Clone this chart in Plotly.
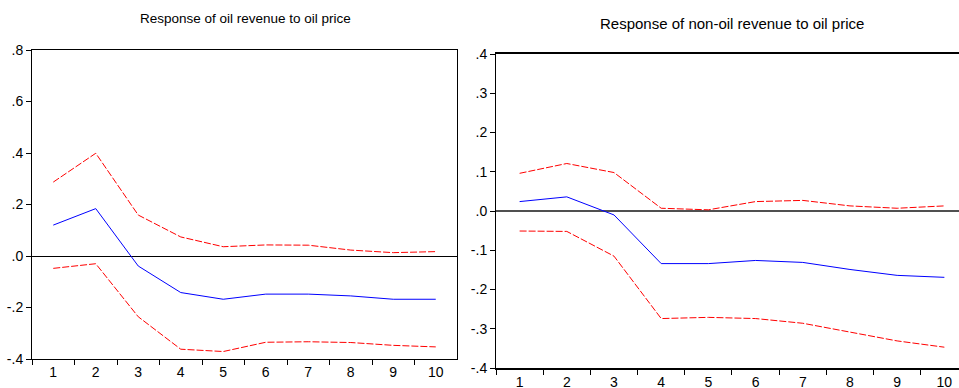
import plotly.graph_objects as go

periods = ["1", "2", "3", "4", "5", "6", "7", "8", "9", "10"]

# Left panel: response of oil revenue to oil price
oil_resp = [0.120, 0.184, -0.039, -0.142, -0.168, -0.148, -0.148, -0.155, -0.168, -0.168]
oil_upper = [0.287, 0.399, 0.159, 0.074, 0.036, 0.043, 0.042, 0.023, 0.013, 0.017]
oil_lower = [-0.048, -0.030, -0.236, -0.362, -0.371, -0.335, -0.333, -0.336, -0.347, -0.353]

# Right panel: response of non-oil revenue to oil price
non_resp = [0.024, 0.036, -0.010, -0.134, -0.134, -0.126, -0.131, -0.149, -0.164, -0.169]
non_upper = [0.096, 0.121, 0.098, 0.007, 0.003, 0.024, 0.027, 0.013, 0.007, 0.013]
non_lower = [-0.051, -0.052, -0.115, -0.274, -0.271, -0.274, -0.286, -0.309, -0.331, -0.347]

left_ticks = [-0.4, -0.2, 0.0, 0.2, 0.4, 0.6, 0.8]
left_ticktext = ["-.4", "-.2", ".0", ".2", ".4", ".6", ".8"]
right_ticks = [-0.4, -0.3, -0.2, -0.1, 0.0, 0.1, 0.2, 0.3, 0.4]
right_ticktext = ["-.4", "-.3", "-.2", "-.1", ".0", ".1", ".2", ".3", ".4"]

titles = ["Response of oil revenue to oil price", "Response of non-oil revenue to oil price"]

W, H = 959, 388
FONT = "Liberation Sans, Arial, sans-serif"

fig = go.Figure()

def add_panel(xa, ya, resp, up, lo):
    fig.add_trace(go.Scatter(x=periods, y=up, mode="lines", xaxis=xa, yaxis=ya,
                             line=dict(color="#ff0000", width=1, dash="7px,2px"), showlegend=False))
    fig.add_trace(go.Scatter(x=periods, y=lo, mode="lines", xaxis=xa, yaxis=ya,
                             line=dict(color="#ff0000", width=1, dash="7px,2px"), showlegend=False))
    fig.add_trace(go.Scatter(x=periods, y=resp, mode="lines", xaxis=xa, yaxis=ya,
                             line=dict(color="#0000ff", width=1), showlegend=False))

add_panel("x", "y", oil_resp, oil_upper, oil_lower)
add_panel("x2", "y2", non_resp, non_upper, non_lower)

tickfont = dict(family=FONT, size=14, color="black")

fig.update_layout(
    width=W, height=H,
    margin=dict(l=0, r=0, t=0, b=0, autoexpand=False),
    paper_bgcolor="white", plot_bgcolor="white",
    xaxis=dict(domain=[32 / W, 457 / W], anchor="y", type="category", automargin=False,
               range=[-0.5, 9.5], tickson="boundaries", ticks="outside", ticklen=5,
               tickcolor="black", showline=True, linecolor="black", linewidth=1,
               mirror=True, showgrid=False, tickfont=tickfont),
    yaxis=dict(domain=[(H - 359) / H, (H - 50) / H], anchor="x", automargin=False,
               range=[-0.4, 0.8], tickvals=left_ticks, ticktext=left_ticktext,
               ticks="outside", ticklen=5, tickcolor="black", showline=True,
               linecolor="black", linewidth=1, mirror=True, showgrid=False,
               zeroline=True, zerolinecolor="black", zerolinewidth=1, tickfont=tickfont),
    xaxis2=dict(domain=[496 / W, 1.0], anchor="y2", type="category", automargin=False,
                range=[-0.5, 9.31], tickson="boundaries", ticks="outside", ticklen=5,
                tickcolor="black", showline=True, linecolor="black", linewidth=1.5,
                mirror=True, showgrid=False, tickfont=tickfont),
    yaxis2=dict(domain=[(H - 368) / H, (H - 54) / H], anchor="x2", automargin=False,
                range=[-0.4, 0.4], tickvals=right_ticks, ticktext=right_ticktext,
                ticks="outside", ticklen=5, tickcolor="black", showline=True,
                linecolor="black", linewidth=1, mirror=False, showgrid=False,
                zeroline=True, zerolinecolor="#505050", zerolinewidth=2, tickfont=tickfont),
    annotations=[
        dict(text=titles[0], x=245 / W, y=1 - 18 / H, xref="paper", yref="paper",
             xanchor="center", yanchor="middle", showarrow=False,
             font=dict(family=FONT, size=13.5, color="black")),
        dict(text=titles[1], x=732 / W, y=1 - 23 / H, xref="paper", yref="paper",
             xanchor="center", yanchor="middle", showarrow=False,
             font=dict(family=FONT, size=15, color="black")),
    ],
)

fig.write_html("out.html", config={"displayModeBar": False},
               post_script="document.body.style.margin='0';document.body.style.overflow='hidden';")
